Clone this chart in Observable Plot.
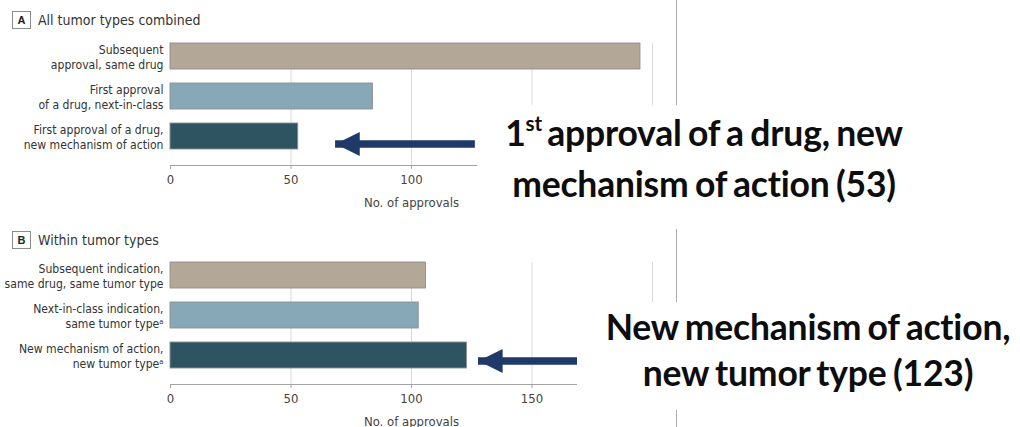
<!DOCTYPE html>
<html>
<head>
<meta charset="utf-8">
<script src="https://cdn.jsdelivr.net/npm/d3@7"></script>
<script src="https://cdn.jsdelivr.net/npm/@observablehq/plot@0.6"></script>
<style>
  body { margin: 0; background: #fff; }
  #wrap { position: relative; width: 1020px; height: 427px; overflow: hidden; background: #fff;
          font-family: "Liberation Sans Narrow", "DejaVu Sans Condensed", sans-serif; }
  .panel { position: absolute; left: 0; }
  .head { position: absolute; left: 12px; height: 18px; display: flex; align-items: center; color: #333; font-size: 14px; }
  .badge { box-sizing: border-box; width: 19px; height: 18px; border: 1px solid #8c8c8c; display: flex;
           align-items: center; justify-content: center; font-weight: bold; font-size: 11px; margin-right: 7px; color: #222;
           font-family: "Liberation Sans", sans-serif; }
  .sep { position: absolute; left: 676px; top: 0; width: 1.4px; height: 427px; background: #a9a9a9; }
  .cover { position: absolute; background: #fff; }
  .note { position: absolute; width: 560px; text-align: center; font-family: Lato, "Open Sans", sans-serif;
          font-weight: bold; color: #0d0d0d; font-size: 35.5px; line-height: 46px; letter-spacing: -0.2px; word-spacing: -2px;
          white-space: nowrap; }
  .note sup { font-size: 0.58em; vertical-align: 0; position: relative; top: -0.72em; letter-spacing: 0; margin-right: 5px; }
</style>
</head>
<body>
<div id="wrap">
  <div class="sep"></div>
  <div id="pA" class="panel" style="top:0"></div>
  <div id="pB" class="panel" style="top:219px"></div>
  <div class="head" style="top:11px"><div class="badge">A</div>All tumor types combined</div>
  <div class="head" style="top:231px"><div class="badge">B</div>Within tumor types</div>
  <div class="cover" style="left:477px; top:105px; width:543px; height:124px"></div>
  <div class="cover" style="left:577px; top:302px; width:443px; height:108px"></div>
  <div class="note" style="left:424px; top:110px">1<sup>st</sup>approval of a drug, new<br>mechanism of action (53)</div>
  <div class="note" style="left:528px; top:304px">New mechanism of action,<br>new tumor type (123)</div>
</div>
<script>
// Panel A: all tumor types combined
const categoriesA = ["Subsequent\napproval, same drug", "First approval\nof a drug, next-in-class", "First approval of a drug,\nnew mechanism of action"];
const valuesA = [195, 84, 53];
const ticksA = [0, 50, 100];
// Panel B: within tumor types
const categoriesB = ["Subsequent indication,\nsame drug, same tumor type", "Next-in-class indication,\nsame tumor type\u1d43", "New mechanism of action,\nnew tumor type\u1d43"];
const valuesB = [106, 103, 123];
const ticksB = [0, 50, 100, 150];
const barColors = ["#b3a797", "#87a8b7", "#2e5461"];
const gridTicks = [50, 100, 150, 200];
// Annotation arrows (tail value, tip value) pointing at the third bar
const arrowA = [126.5, 68.5];
const arrowB = [185.5, 127.8];

const leftTriangle = {
  draw(context, size) {
    const s = Math.sqrt(size / Math.PI);
    context.moveTo(0, 0);
    context.lineTo(2.1 * s, -1.05 * s);
    context.lineTo(2.1 * s, 1.05 * s);
    context.closePath();
  }
};

function panel(cats, vals, ticks, arrow, arrowDy) {
  const data = cats.map((c, i) => ({cat: c, value: vals[i], color: barColors[i]}));
  const arrowData = [{cat: cats[2], from: arrow[0], to: arrow[1]}];
  return Plot.plot({
    width: 1020, height: 212,
    marginLeft: 170, marginRight: 368, marginTop: 43, marginBottom: 47,
    style: {fontFamily: '"Liberation Sans Narrow", "DejaVu Sans Condensed", sans-serif', fontSize: "12px", color: "#333", background: "transparent"},
    x: {domain: [0, 200], label: null},
    y: {domain: cats, paddingInner: 0.344, paddingOuter: 0.18, align: 0, label: null},
    color: {type: "identity"},
    marks: [
      Plot.gridX(gridTicks, {stroke: "#d9d9d9", strokeOpacity: 1, strokeWidth: 1}),
      Plot.barX(data, {x: "value", y: "cat", fill: "color", stroke: "#8e8e8e", strokeWidth: 0.9}),
      Plot.frame({anchor: "bottom", stroke: "#a3a3a3", strokeWidth: 1.2}),
      Plot.axisX({ticks: ticks, tickSize: 4, tickPadding: 5, stroke: "#a3a3a3", fill: "#444", fontSize: 13,
                  label: "No. of approvals", labelAnchor: "center", labelArrow: "none", labelOffset: 41}),
      Plot.axisY({tickSize: 0, tickPadding: 7, lineHeight: 1.25, fontSize: 12.1, fill: "#333"}),
      Plot.ruleY(arrowData, {y: "cat", x1: "from", x2: "to", dy: arrowDy, stroke: "#1f3a68", strokeWidth: 7.5}),
      Plot.dot(arrowData, {x: "to", y: "cat", dy: arrowDy, symbol: leftTriangle, r: 11.5, fill: "#1f3a68", stroke: "none"})
    ]
  });
}

document.getElementById("pA").append(panel(categoriesA, valuesA, ticksA, arrowA, 7.5));
document.getElementById("pB").append(panel(categoriesB, valuesB, ticksB, arrowB, 5.5));
</script>
</body>
</html>
